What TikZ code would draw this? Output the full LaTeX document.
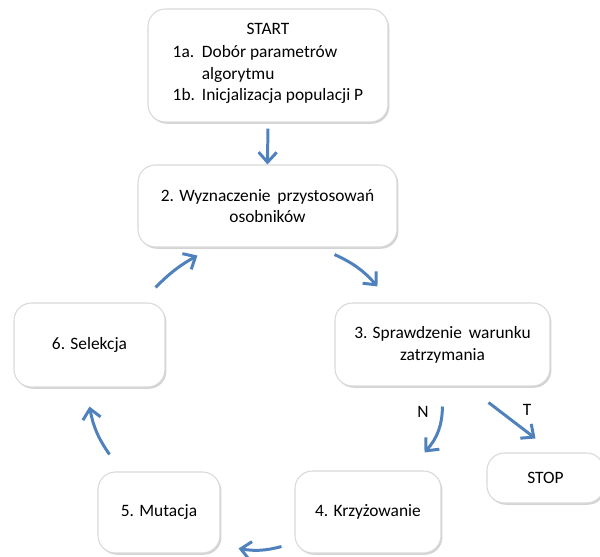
\documentclass[tikz,border=0pt]{standalone}
\usepackage{fontspec}
\setmainfont{Carlito}
\usetikzlibrary{arrows.meta,shadows,calc}
\definecolor{strzalka}{HTML}{4F81BD}

\tikzset{
  krok/.style={draw=gray!30, line width=0.6pt, rounded corners=0.35cm, fill=white,
    drop shadow={shadow xshift=0.8pt, shadow yshift=-1pt, opacity=0.35},
    align=center, inner sep=0pt, font=\fontsize{9.9}{12.4}\selectfont},
  strz/.style={strzalka, line width=1.7pt, -{Straight Barb[length=2mm,width=3.6mm]}},
  etyk/.style={font=\fontsize{9.9}{12.4}\selectfont}
}

\begin{document}
\begin{tikzpicture}[x=0.02cm,y=0.02cm]
\useasboundingbox (0,0) rectangle (600,556); % --- canvas

% ----- boxes of the algorithm
\node[krok,minimum width=240*0.02cm,minimum height=113*0.02cm] (start) at (268,490.5)
  {START\\[3pt]
   \begin{tabular}{@{}l@{\ \,}l@{}}
   1a. & Dobór parametrów\\
       & algorytmu\\
   1b. & Inicjalizacja populacji P
   \end{tabular}};
\node[krok,minimum width=259*0.02cm,minimum height=82*0.02cm] (wyzn) at (267.5,350)
  {2. Wyznaczenie \,przystosowań\\osobników};
\node[krok,minimum width=215*0.02cm,minimum height=83*0.02cm] (spraw) at (442.5,211.5)
  {3. Sprawdzenie \,warunku\\zatrzymania};
\node[krok,minimum width=151*0.02cm,minimum height=84*0.02cm] (selek) at (89.5,211) {6. Selekcja};
\node[krok,minimum width=146*0.02cm,minimum height=82*0.02cm] (krzyz) at (368,44) {4. Krzyżowanie};
\node[krok,minimum width=122*0.02cm,minimum height=81*0.02cm] (mutac) at (159,43.5) {5. Mutacja};
\node[krok,minimum width=117*0.02cm,minimum height=50*0.02cm] (stop) at (545.5,78) {STOP};

\node[etyk] (lblN) at (423,144) {N}; % --- no
\node[etyk] (lblT) at (527,146) {T}; % --- yes

% ----- arrows of the cycle
\draw[strz,shorten <=6*0.02cm] (start.south) -- (wyzn.north);
\draw[strz] ($(wyzn.south east)+(-63,-7)$) to[bend left=12] ($(spraw.north west)+(43,16)$);
\draw[strz] ($(spraw.south)+(0,-20)$) to[bend left=20] ($(krzyz.north east)+(-17,18)$);
\draw[strz] ($(spraw.south east)+(-62,-16)$) -- ($(stop.north)+(-10,14)$);
\draw[strz] ($(krzyz.south west)+(-13,7)$) to[bend left=12] ($(mutac.south east)+(18,5)$);
\draw[strz] ($(mutac.north west)+(12,17)$) to[bend left=12] ($(selek.south)+(0,-19)$);
\draw[strz] ($(selek.north east)+(-10,15)$) to[bend left=8] ($(wyzn.south west)+(60,-8)$);
\end{tikzpicture}
\end{document}
